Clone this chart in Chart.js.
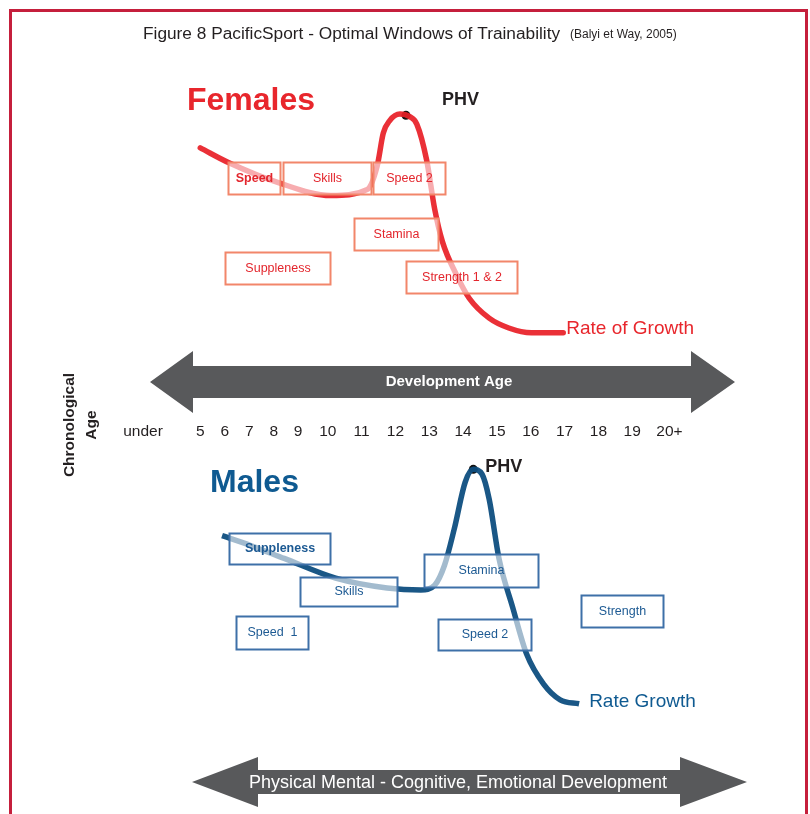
<!DOCTYPE html>
<html>
<head>
<meta charset="utf-8">
<script src="https://cdn.jsdelivr.net/npm/chart.js@4.4.1/dist/chart.umd.min.js"></script>
<style>
  html, body { margin: 0; padding: 0; background: #fff; }
  #wrap { width: 810px; height: 814px; }
</style>
</head>
<body>
<div id="wrap"><canvas id="chart" width="810" height="814"></canvas></div>
<script>
// SECTION: data
const ageTicks = ['under', '5', '6', '7', '8', '9', '10', '11', '12', '13', '14', '15', '16', '17', '18', '19', '20+'];
const ageTickAt = [2.66, 5, 6, 7, 8, 9, 10, 11, 12, 13, 14, 15, 16, 17, 18, 19, 20.1];

// rate of growth (0 = none, 100 = peak height velocity)
const femaleAges = [5.0, 6.17, 8.19, 10.09, 11.17, 11.46, 11.64, 11.83, 12.13, 12.42, 12.63, 12.92, 13.16, 13.39, 13.8, 14.18, 14.77, 15.35, 16.02, 16.96];
const femaleGrowth = [85.1, 78.3, 69.2, 63.3, 66.1, 76.9, 91.9, 97.6, 100.6, 99.4, 96.0, 79.6, 57.0, 42.1, 27.1, 16.3, 7.2, 2.7, 0.5, 0.5];
const maleAges = [5.89, 7.06, 8.43, 10.23, 11.75, 12.75, 13.16, 13.45, 13.74, 14.06, 14.3, 14.56, 14.77, 15.06, 15.47, 15.88, 16.38, 16.87, 17.43];
const maleGrowth = [71.7, 67.5, 62.0, 53.6, 49.4, 48.5, 50.6, 59.1, 74.7, 94.5, 100, 97.9, 87.3, 62.0, 40.9, 21.1, 8.4, 1.7, 0];

const femalePhv = { age: 12.31, growth: 100 };
const malePhv = { age: 14.3, growth: 100 };

// windows of trainability (age from / to)
const femaleWindows = ['Speed', 'Skills', 'Speed 2', 'Stamina', 'Suppleness', 'Strength 1 & 2'];
const femaleFrom = [6.13, 8.39, 11.35, 10.76, 6.01, 12.31];
const femaleTo = [8.27, 11.29, 13.45, 13.27, 10.06, 15.58];
const maleWindows = ['Suppleness', 'Skills', 'Speed  1', 'Stamina', 'Speed 2', 'Strength'];
const maleFrom = [6.17, 9.07, 6.45, 12.84, 13.27, 17.48];
const maleTo = [10.06, 12.05, 9.33, 16.2, 16.02, 19.91];

// SECTION: layout
// the age axis of the figure is uneven: 5-9 are narrower than 10+
const ageToUnit = (age) => {
  if (age <= 9) return age - 5;
  if (age <= 10) return 4 + (age - 9) * 1.212;
  return 5.212 + (age - 10) * 1.382;
};

// vertical band of each box, in the growth units of its panel
const femaleBoxRows = [[78.7, 63.8], [78.7, 63.8], [78.7, 63.8], [52.9, 38.5], [37.6, 22.6], [33.5, 18.6]];
const maleBoxRows = [[73.0, 59.5], [54.0, 41.8], [37.6, 23.2], [63.7, 49.8], [36.3, 22.8], [46.4, 32.9]];
const femaleBold = [true, false, false, false, false, false];
const maleBold = [true, false, false, false, false, false];

const FONT = '"Liberation Sans", Arial, Helvetica, sans-serif';
const RED = '#e8262c';
const BLUE = '#0f5a91';
const GREY = '#58595b';

const points = (ages, values) => ages.map((age, i) => ({ x: ageToUnit(age), y: values[i] }));

const text = (ctx, str, x, y, font, color, align = 'left') => {
  ctx.font = font;
  ctx.fillStyle = color;
  ctx.textAlign = align;
  ctx.textBaseline = 'middle';
  ctx.fillText(str, x, y);
};

const arrow = (ctx, tipL, baseL, baseR, tipR, mid, head, shaft) => {
  ctx.beginPath();
  ctx.moveTo(tipL, mid);
  ctx.lineTo(baseL, mid - head);
  ctx.lineTo(baseL, mid - shaft);
  ctx.lineTo(baseR, mid - shaft);
  ctx.lineTo(baseR, mid - head);
  ctx.lineTo(tipR, mid);
  ctx.lineTo(baseR, mid + head);
  ctx.lineTo(baseR, mid + shaft);
  ctx.lineTo(baseL, mid + shaft);
  ctx.lineTo(baseL, mid + head);
  ctx.closePath();
  ctx.fillStyle = GREY;
  ctx.fill();
};

const drawWindows = (chart, names, from, to, rows, bold, yScale, stroke, color) => {
  const { ctx } = chart;
  const x = chart.scales.x;
  names.forEach((name, i) => {
    const x0 = Math.round(x.getPixelForValue(ageToUnit(from[i]))) + 0.5;
    const x1 = Math.round(x.getPixelForValue(ageToUnit(to[i]))) + 0.5;
    const y0 = Math.round(yScale.getPixelForValue(rows[i][0])) + 0.5;
    const y1 = Math.round(yScale.getPixelForValue(rows[i][1])) + 0.5;
    ctx.fillStyle = 'rgba(255,255,255,0.6)';
    ctx.fillRect(x0, y0, x1 - x0, y1 - y0);
    ctx.strokeStyle = stroke;
    ctx.lineWidth = 2;
    ctx.strokeRect(x0, y0, x1 - x0, y1 - y0);
    text(ctx, name, (x0 + x1) / 2, (y0 + y1) / 2, `${bold[i] ? 'bold ' : ''}12.5px ${FONT}`, color, 'center');
  });
};

const decor = {
  id: 'decor',
  afterDatasetsDraw(chart) {
    drawWindows(chart, femaleWindows, femaleFrom, femaleTo, femaleBoxRows, femaleBold, chart.scales.yF, '#f2866a', '#e3262d');
    drawWindows(chart, maleWindows, maleFrom, maleTo, maleBoxRows, maleBold, chart.scales.yM, '#3e70a8', '#1d5a93');
  },
  afterDraw(chart) {
    const { ctx } = chart;
    const x = chart.scales.x;
    const yF = chart.scales.yF;
    const yM = chart.scales.yM;
    ctx.save();

    // frame
    ctx.strokeStyle = '#c51f3c';
    ctx.lineWidth = 3;
    ctx.strokeRect(10.5, 10.5, 796, 900);

    // title
    text(ctx, 'Figure 8 PacificSport - Optimal Windows of Trainability', 143, 34, `17.3px ${FONT}`, '#231f20');
    text(ctx, '(Balyi et Way, 2005)', 570, 35, `12px ${FONT}`, '#231f20');

    // panel headings
    text(ctx, 'Females', 187, 101, `bold 32px ${FONT}`, RED);
    text(ctx, 'Males', 210, 483, `bold 32px ${FONT}`, BLUE);

    const fx = x.getPixelForValue(ageToUnit(femalePhv.age));
    const fy = yF.getPixelForValue(femalePhv.growth);
    text(ctx, 'PHV', fx + 36, fy - 15, `bold 18px ${FONT}`, '#231f20');
    const mx = x.getPixelForValue(ageToUnit(malePhv.age));
    const my = yM.getPixelForValue(malePhv.growth);
    text(ctx, 'PHV', mx + 12, my - 2, `bold 18px ${FONT}`, '#231f20');

    const fEnd = x.getPixelForValue(ageToUnit(femaleAges[femaleAges.length - 1]));
    text(ctx, 'Rate of Growth', fEnd + 3, yF.getPixelForValue(2.3), `19px ${FONT}`, RED);
    const mEnd = x.getPixelForValue(ageToUnit(maleAges[maleAges.length - 1]));
    text(ctx, 'Rate Growth', mEnd + 10, yM.getPixelForValue(0.8), `19px ${FONT}`, BLUE);

    // development age arrow and chronological age row
    arrow(ctx, 150, 193, 691, 735, 382, 31, 16);
    text(ctx, 'Development Age', 449, 382, `bold 15px ${FONT}`, '#fff', 'center');

    ageTicks.forEach((label, i) => {
      const px = x.getPixelForValue(ageToUnit(ageTickAt[i]));
      text(ctx, label, px, 432, `15.5px ${FONT}`, '#231f20', 'center');
    });

    ctx.save();
    ctx.translate(70, 425);
    ctx.rotate(-Math.PI / 2);
    text(ctx, 'Chronological', 0, 0, `bold 15.5px ${FONT}`, '#231f20', 'center');
    text(ctx, 'Age', 0, 22, `bold 15.5px ${FONT}`, '#231f20', 'center');
    ctx.restore();

    // bottom arrow
    arrow(ctx, 192, 258, 680, 747, 782, 25, 12);
    text(ctx, 'Physical Mental - Cognitive, Emotional Development', 458, 783, `18px ${FONT}`, '#fff', 'center');

    ctx.restore();
  }
};

// SECTION: chart
new Chart(document.getElementById('chart'), {
  type: 'line',
  data: {
    datasets: [
      {
        data: points(femaleAges, femaleGrowth),
        yAxisID: 'yF',
        borderColor: 'rgba(232, 30, 38, 0.92)',
        borderWidth: 5.5,
        cubicInterpolationMode: 'monotone',
        pointRadius: 0,
        borderCapStyle: 'round'
      },
      {
        data: points(maleAges, maleGrowth),
        yAxisID: 'yM',
        borderColor: 'rgba(14, 78, 128, 0.95)',
        borderWidth: 5.5,
        cubicInterpolationMode: 'monotone',
        pointRadius: 0,
        borderCapStyle: 'butt'
      },
      {
        data: [{ x: ageToUnit(femalePhv.age), y: femalePhv.growth }],
        yAxisID: 'yF',
        showLine: false,
        pointRadius: 4.5,
        pointBackgroundColor: '#111',
        pointBorderWidth: 0
      },
      {
        data: [{ x: ageToUnit(malePhv.age), y: malePhv.growth }],
        yAxisID: 'yM',
        showLine: false,
        pointRadius: 4.5,
        pointBackgroundColor: '#111',
        pointBorderWidth: 0
      }
    ]
  },
  options: {
    responsive: false,
    animation: false,
    layout: { padding: 0 },
    scales: {
      x: { type: 'linear', display: false, min: -8, max: 24.73 },
      yF: { type: 'linear', display: false, min: -217.6, max: 150.7 },
      yM: { type: 'linear', display: false, min: -45.1, max: 298.3 }
    },
    plugins: {
      legend: { display: false },
      tooltip: { enabled: false }
    }
  },
  plugins: [decor]
});
</script>
</body>
</html>
